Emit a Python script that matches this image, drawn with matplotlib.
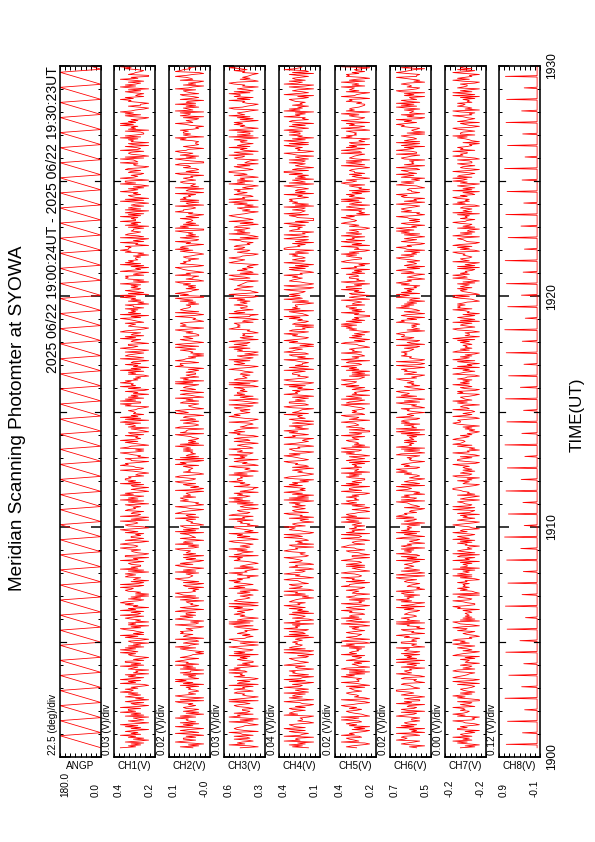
"""Meridian scanning photometer quick-look page (SYOWA)."""

import matplotlib

matplotlib.use('Agg')  # Non-interactive backend
import matplotlib.pyplot as plt
import matplotlib.transforms as mtransforms
import numpy as np

plt.rcParams['font.family'] = ['Liberation Sans', 'DejaVu Sans']

PAGE_W, PAGE_H = 595, 842

# record span, minutes after 19:00 UT
T_START = 24 / 60
T_END = 30 + 23 / 60
TIME_TICKS = [0, 10, 20, 30]
TIME_LABELS = ['1900', '1910', '1920', '1930']

PANEL_NAMES = ['ANGP', 'CH1(V)', 'CH2(V)', 'CH3(V)', 'CH4(V)',
               'CH5(V)', 'CH6(V)', 'CH7(V)', 'CH8(V)']
PANEL_MIN = [0.0, 0.20, -0.02, 0.32, 0.08, 0.24, 0.52, -0.232, -0.08]
PANEL_MAX = [180.0, 0.40, 0.12, 0.56, 0.40, 0.40, 0.68, -0.200, 0.88]
DIV_LABELS = ['22.5 (deg)/div', '0.03 (V)/div', '0.02 (V)/div', '0.03 (V)/div',
              '0.04 (V)/div', '0.02 (V)/div', '0.02 (V)/div', '0.00 (V)/div',
              '0.12 (V)/div']

# scan angle (deg), one value every 8 s
ANGP_DEG = [
    0, 45, 90, 135, 180, 0, 45, 90, 135, 180,
    0, 45, 90, 135, 180, 0, 45, 90, 135, 180,
    0, 45, 90, 135, 180, 0, 45, 90, 135, 180,
    0, 45, 90, 135, 180, 0, 45, 90, 135, 180,
    0, 45, 90, 135, 180, 0, 45, 90, 135, 180,
    0, 45, 90, 135, 180, 0, 45, 90, 135, 180,
    0, 45, 90, 135, 180, 0, 45, 90, 135, 180,
    0, 45, 90, 135, 180, 0, 45, 90, 135, 180,
    0, 45, 90, 135, 180, 0, 45, 90, 135, 180,
    0, 45, 90, 135, 180, 0, 45, 90, 135, 180,
    0, 45, 90, 135, 180, 0, 45, 90, 135, 180,
    0, 45, 90, 135, 180, 0, 45, 90, 135, 180,
    0, 45, 90, 135, 180, 0, 45, 90, 135, 180,
    0, 45, 90, 135, 180, 0, 45, 90, 135, 180,
    0, 45, 90, 135, 180, 0, 45, 90, 135, 180,
    0, 45, 90, 135, 180, 0, 45, 90, 135, 180,
    0, 45, 90, 135, 180, 0, 45, 90, 135, 180,
    0, 45, 90, 135, 180, 0, 45, 90, 135, 180,
    0, 45, 90, 135, 180, 0, 45, 90, 135, 180,
    0, 45, 90, 135, 180, 0, 45, 90, 135, 180,
    0, 45, 90, 135, 180, 0, 45, 90, 135, 180,
    0, 45, 90, 135, 180, 0, 45, 90, 135, 180,
    0, 45, 90, 135, 180, 0, 45, 90, 135, 180,
]

# photometer channels, one sample every 2.5 s.  Each digit is a noise level
# value = centre + LEVELS[digit] * spread
LEVELS = [-2.3, -1.5, -1.0, -0.55, -0.18, 0.18, 0.55, 1.0, 1.5, 2.3]
CH_CENTRE = [0.300, 0.050, 0.445, 0.245, 0.320, 0.600, -0.2165]
CH_SPREAD = [0.030, 0.021, 0.037, 0.050, 0.024, 0.024, 0.0045]

CH1_LEVELS = (
    "947261830517492638506283950471350816294772930461850418527396"
    "583620194729617480534075391628815203674936948172506720483915"
    "135892607470426851932619470538598317260404278659319316054287"
    "485071936226741935088103562794359720841662418379501785349062"
    "093265187452680471937419583026305619274886714302592145978306"
    "680325794141976025839524381670136074582970829361545743108692"
    "294817360538107294659683524017471926053826503914874182069537"
    "703652948165298410376481357926092746381558031726494907158326"
    "362940517878153096240619285734425031869776804391520913874265"
    "517083629446392718508275164039180467253963715029488049536217"
    "628710453934591802676193248057065739284112807463959473610582"
    "859641037220376958143158270694842715936007542138696026984375"
)
CH2_LEVELS = (
    "381504962772603914850493718256592840617316742538908307962541"
    "254618073969135270844082739165975186430203682954175129047638"
    "783461059214059738266297058314356084192789423150672071689543"
    "461927305893851062740726548931519376048234580927167801435629"
    "156298730469302148578274563091041572896326983017454357196820"
    "908165243737469081525213479086650983127418247603957960245318"
    "716390248505824763193907581462263150497881497625030435826917"
    "940268357112637940586785013249302916875446152837900859743162"
    "527489016331946025789203867451674201583958730649214816253790"
    "095817264348162053977423905618186745290365091432786257340891"
    "631274598004792618538965047312213869057477583120469346217085"
    "480935716292650841378146729530725108346963019874520594386217"
)
CH3_LEVELS = (
    "602947513823815690478754023916049671832551378624909620354871"
    "384519076271028465934968307251157362908482157940360689431527"
    "534026817929175036486473185902905874236137260194851486957230"
    "759342081642013867590865173942631489502727590413688032657194"
    "519832674036407192859427580631108326495775619384024279015386"
    "084639217569125740382385017694875064312931047968525627831940"
    "259036184773645801929108734526514697203846829315704107582963"
    "832970461545013298676781540392209487156338536274910694012875"
    "176543089248906127351320598647965104732854872315690601392748"
    "428730619513689742052570418396094512863768153029471746028359"
    "951368270432078549168046392751563840917227195036485830617294"
    "674208953103549271866928137405489701625321054836970298673154"
)
CH4_LEVELS = (
    "173825094650943168279267840153341095876278261034950583762914"
    "615943720829430815768305629741467821503910928743657536409182"
    "382195647094601732580715382694528764031926590184378134597026"
    "497326018560184357921342798560780536124935910248769267503418"
    "043891675257264830918150739624269385714069841025374071265893"
    "135794820678450296313209671485951638207406824539175430796128"
    "826417039564705382910389621547752904816331469052781297638504"
    "038596214759418723060762153849123680947566207149358485327910"
    "691024875375934016828160493275237581640998452706319614923087"
    "453827916000568194327329061758784153906265137940824706251839"
    "917503642832814605792054637918169270538448396158270587132946"
    "260948351734267831509613750482095382674158071296437340915862"
)
CH5_LEVELS = (
    "486201935782395741061507486239639012578427489630159015347862"
    "567180249334269581707198034625085326194763427195801970584326"
    "851463702940852937612769158403923170685406538421977408165932"
    "359702461818423975066023781459871564029323908561745164293780"
    "947853016202619478354836105927750938264116837290543925461708"
    "614702859328906153478356194270071286345950743891264631257908"
    "731925806452064183975489321706160837495238709536124926574013"
    "498150372615203748694972816350053916274881652490374067153928"
    "825069143773481625094513079862268493710534906279185619528347"
    "102736985467958041329148607529391475826070325718964830462715"
    "576302914828047653192395184706713209684546802931758069421573"
    "940857632114286703954208376591635917402878361452090351796248"
)
CH6_LEVELS = (
    "250486319768713904250938267514415973280683265094711740286359"
    "961345870232870159467450832619509264718317659034288243175960"
    "437802165909165842376521739084208495637178394021653157628940"
    "960281475357431906281295473806846035219703729185646518047329"
    "398672541071245690832857031496469081375205312749689217586304"
    "546319802718096453727345260819609243718587219536403658014279"
    "173049286589602571436358924107427683059102910354867685437219"
    "046219538779850613424139782605860371249583726054198591846372"
    "318597460264208359716075236148953824170679461038527402718593"
    "792406831515693021847863159407230786951446501297383140863925"
    "681295073435078641922496370851917523684060342158796274910638"
    "054371692839168245073708952164586031479221697530841429081756"
)
CH7_LEVELS = (
    "715038492639267415088473015692120859643756914732800385962714"
    "674213805920598643179816327405437150986206248517937598230146"
    "318549602789071625345236087941146932587090127483656384501729"
    "285361907446270935187091586243054827193683159476023796204851"
    "647083219519325684075208143679974106538240893275162563791048"
    "862701593403148297656985372410315260489778401952631293476058"
    "492567310868105724937362854019751639082404819637251098372546"
    "247381960533502896147629071584160435928785864012793901367482"
    "753816024946937452180815209367324658901738297104568509627143"
    "081632795417453809264276019583538947126092615830749649287315"
    "930476158223801596744917684230602358491776148920357085314692"
    "317905248658243617091592730864471069385230594182763864752109"
)

# CH8 sits on a flat baseline with one short pulse per half minute
CH8_BASE_MV = -12
CH8_PULSE_MIN = [
    0.55, 1.05, 1.55, 2.05, 2.55, 3.05, 3.55, 4.05, 4.55, 5.05,
    5.55, 6.05, 6.55, 7.05, 7.55, 8.05, 8.55, 9.05, 9.55, 10.05,
    10.55, 11.05, 11.55, 12.05, 12.55, 13.05, 13.55, 14.05, 14.55, 15.05,
    15.55, 16.05, 16.55, 17.05, 17.55, 18.05, 18.55, 19.05, 19.55, 20.05,
    20.55, 21.05, 21.55, 22.05, 22.55, 23.05, 23.55, 24.05, 24.55, 25.05,
    25.55, 26.05, 26.55, 27.05, 27.55, 28.05, 28.55, 29.05, 29.55, 30.05,
]
CH8_PULSE_MV = [
    710, 330, 680, 280, 740, 350, 650, 300, 720, 390,
    690, 260, 730, 340, 670, 310, 700, 370, 750, 290,
    660, 320, 715, 360, 685, 275, 740, 345, 695, 305,
    725, 380, 655, 295, 710, 335, 745, 265, 675, 355,
    705, 315, 735, 285, 665, 365, 720, 300, 690, 340,
    750, 270, 680, 325, 715, 350, 700, 290, 730, 310,
]

# layout of the page, in pixels from the top-left corner
PANEL_LEFT_PX = [60, 114, 169, 224, 279, 335, 390, 445, 499]
PANEL_W_PX = 41
PANEL_TOP_PX = 66
PANEL_BOTTOM_PX = 757


def sample_times(n):
    """Evenly spaced sample times over the record, in minutes."""
    return np.linspace(T_START, T_END, n)


def decode_levels(digits, centre, spread):
    lv = np.array(LEVELS)[[int(c) for c in digits]]
    return centre + lv * spread


def ch8_series():
    """Expand the CH8 pulse list into a plottable series."""
    t = [T_START]
    v = [CH8_BASE_MV]
    for tp, vp in zip(CH8_PULSE_MIN, CH8_PULSE_MV):
        t += [tp - 0.03, tp, tp + 0.03]
        v += [CH8_BASE_MV, vp, CH8_BASE_MV]
    t.append(T_END)
    v.append(CH8_BASE_MV)
    return np.array(t), np.array(v) / 1000.0


def panel_series():
    series = [(sample_times(len(ANGP_DEG)), np.array(ANGP_DEG, dtype=float))]
    channels = [CH1_LEVELS, CH2_LEVELS, CH3_LEVELS, CH4_LEVELS,
                CH5_LEVELS, CH6_LEVELS, CH7_LEVELS]
    for k, digits in enumerate(channels):
        v = decode_levels(digits, CH_CENTRE[k], CH_SPREAD[k])
        series.append((sample_times(len(v)), v))
    series.append(ch8_series())
    return series


def draw_panel(fig, i, t, v):
    left = PANEL_LEFT_PX[i] / PAGE_W
    bottom = 1 - PANEL_BOTTOM_PX / PAGE_H
    height = (PANEL_BOTTOM_PX - PANEL_TOP_PX) / PAGE_H
    ax = fig.add_axes([left, bottom, PANEL_W_PX / PAGE_W, height])

    ax.plot(v, t, color='red', lw=0.8)

    lo, hi = PANEL_MIN[i], PANEL_MAX[i]
    ax.set_xlim(hi, lo)  # larger values to the left
    ax.set_ylim(0, 30)
    ax.set_xticks(np.linspace(lo, hi, 9))
    ax.tick_params(axis='x', direction='in', length=4, width=1,
                   top=True, bottom=True, labelbottom=False)

    ax.set_yticks(TIME_TICKS)
    ax.set_yticks(np.arange(0, 31, 1), minor=True)
    ax.tick_params(axis='y', which='major', direction='in', length=10, width=1.5,
                   left=True, right=True, labelleft=False)
    ax.tick_params(axis='y', which='minor', direction='in', length=3, width=1,
                   left=True, right=True)
    # five-minute marks, mid length
    trans = mtransforms.blended_transform_factory(ax.transAxes, ax.transData)
    frac = 6 / PANEL_W_PX
    for tm in [5, 15, 25]:
        ax.plot([0, frac], [tm, tm], color='black', lw=1.2, transform=trans)
        ax.plot([1 - frac, 1], [tm, tm], color='black', lw=1.2, transform=trans)

    for sp in ax.spines.values():
        sp.set_linewidth(1.6)

    # end-of-scale values below the panel, written along the time axis
    ax.annotate(f'{hi:.1f}', xy=(0, 0), xycoords='axes fraction',
                xytext=(0, -40), textcoords='offset points',
                rotation=90, ha='left', va='bottom', fontsize=10)
    ax.annotate(f'{lo:.1f}', xy=(1, 0), xycoords='axes fraction',
                xytext=(0, -40), textcoords='offset points',
                rotation=90, ha='right', va='bottom', fontsize=10)
    ax.annotate(PANEL_NAMES[i], xy=(0.5, 0), xycoords='axes fraction',
                xytext=(0, -4), textcoords='offset points',
                ha='center', va='top', fontsize=10)

    fig.text((PANEL_LEFT_PX[i] - 7) / PAGE_W, 1 - (PANEL_BOTTOM_PX - 2) / PAGE_H,
             DIV_LABELS[i], rotation=90, ha='center', va='bottom', fontsize=10)
    return ax


def main():
    fig = plt.figure(figsize=(PAGE_W / 72, PAGE_H / 72), dpi=72)

    axes = [draw_panel(fig, i, t, v) for i, (t, v) in enumerate(panel_series())]

    last = axes[-1]
    last.set_yticklabels(TIME_LABELS)
    last.tick_params(axis='y', which='major', labelright=True, labelrotation=90,
                     labelsize=12, pad=6)
    for lbl in last.get_yticklabels():
        lbl.set_va('center')

    fig.text(18 / PAGE_W, 1 - 418 / PAGE_H, 'Meridian Scanning Photomter at SYOWA',
             rotation=90, ha='center', va='center', fontsize=19)
    fig.text(53 / PAGE_W, 1 - PANEL_TOP_PX / PAGE_H,
             '2025 06/22 19:00:24UT - 2025 06/22 19:30:23UT',
             rotation=90, ha='center', va='top', fontsize=14)
    fig.text(577 / PAGE_W, 1 - 415 / PAGE_H, 'TIME(UT)',
             rotation=90, ha='center', va='center', fontsize=17)

    fig.savefig('out.png', dpi=72)
    plt.close(fig)


if __name__ == '__main__':
    main()
